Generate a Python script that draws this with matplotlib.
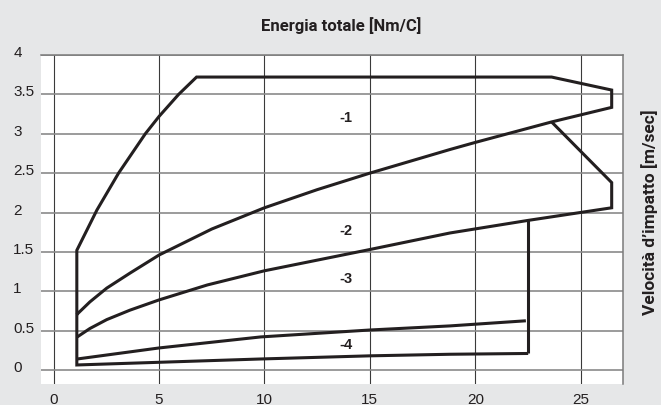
import matplotlib
matplotlib.use('Agg')
import matplotlib.pyplot as plt
import matplotlib.transforms as mtransforms

# ---- data ----
x_ticks = [0, 5, 10, 15, 20, 25]
y_ticks = [0, 0.5, 1, 1.5, 2, 2.5, 3, 3.5, 4]
y_tick_labels = ['0', '0.5', '1', '1.5', '2', '2.5', '3', '3.5', '4']

# bottom edge of the envelope
bottom_x = [1.1, 9.82, 15.0, 18.8, 22.51]
bottom_y = [0.064, 0.14, 0.18, 0.20, 0.21]

# left vertical edge
left_x = [1.1, 1.1]
left_y = [0.064, 1.52]

# outer curve (upper left)
curve1_x = [1.1, 2.05, 3.08, 4.35, 5.0, 5.93, 6.78]
curve1_y = [1.52, 2.03, 2.5, 3.0, 3.22, 3.5, 3.72]

# top edge with right notch
top_x = [6.78, 23.62, 26.47, 26.47]
top_y = [3.72, 3.72, 3.555, 3.335]

# curve between zone -1 and -2
curve2_x = [1.1, 1.72, 2.52, 3.62, 5.0, 7.5, 10.0, 12.5, 15.0, 18.8, 20.0, 23.62, 26.47]
curve2_y = [0.705, 0.865, 1.04, 1.23, 1.46, 1.79, 2.06, 2.29, 2.5, 2.80, 2.89, 3.15, 3.335]

# curve between zone -2 and -3
curve3_x = [1.12, 1.72, 2.52, 3.62, 5.0, 7.29, 10.0, 15.0, 18.8, 22.51, 26.47]
curve3_y = [0.42, 0.527, 0.64, 0.76, 0.89, 1.08, 1.26, 1.53, 1.74, 1.90, 2.06]

# right side of zone -2
notch_x = [26.47, 26.47, 23.62]
notch_y = [2.06, 2.38, 3.15]

# line between zone -3 and -4
curve4_x = [1.12, 5.0, 9.82, 15.0, 18.8, 22.4]
curve4_y = [0.14, 0.28, 0.42, 0.508, 0.56, 0.625]

# right edge of zones -3 / -4
cut_x = [22.51, 22.51]
cut_y = [0.21, 1.90]

zone_labels = ['-1', '-2', '-3', '-4']
zone_x = [13.87, 13.87, 13.87, 13.87]
zone_y = [3.20, 1.77, 1.16, 0.32]

bg = '#e6e7e8'
ink = '#231f20'
head_font = ['Roboto', 'DejaVu Sans']
plain = ['Liberation Sans', 'DejaVu Sans']

fig = plt.figure(figsize=(6.61, 4.05), dpi=100, facecolor=bg)
ax = fig.add_axes([0.062, 0.0514, 0.8803, 0.8128])
ax.set_facecolor('white')
ax.set_xlim(-0.6, 27)
ax.set_ylim(-0.18, 4)

for side in ['left', 'bottom']:
    ax.spines[side].set_visible(False)
for side in ['top', 'right']:
    ax.spines[side].set_color('#7a7a7a')
    ax.spines[side].set_linewidth(1.1)

ax.set_xticks(x_ticks)
ax.set_yticks(y_ticks)
ax.set_yticklabels(y_tick_labels, ha='left')
ax.xaxis.grid(True, color='#3a3a3a', linewidth=0.8)
ax.yaxis.grid(True, color='#8a8a8a', linewidth=1.2)
ax.set_axisbelow(True)
ax.tick_params(axis='both', length=0, labelsize=11, colors=ink)
ax.tick_params(axis='x', pad=6)
ax.tick_params(axis='y', pad=20)
for lab in ax.get_xticklabels() + ax.get_yticklabels():
    lab.set_family(plain)
# nudge y labels slightly above their grid line
shift = mtransforms.ScaledTranslation(0, 3.5 / 100, fig.dpi_scale_trans)
for lab in ax.get_yticklabels():
    lab.set_transform(lab.get_transform() + shift)

line_kw = dict(color=ink, linewidth=2.2, solid_joinstyle='miter', solid_capstyle='butt', zorder=3)

# outer envelope: bottom (reversed), left edge, outer curve, top, curve2 back
outer_x = bottom_x[::-1] + left_x + curve1_x + top_x + curve2_x[::-1]
outer_y = bottom_y[::-1] + left_y + curve1_y + top_y + curve2_y[::-1]
ax.plot(outer_x, outer_y, **line_kw)
ax.plot(curve3_x + notch_x, curve3_y + notch_y, **line_kw)
ax.plot(curve4_x, curve4_y, **line_kw)
ax.plot(cut_x, cut_y, **line_kw)

for lab, lx, ly in zip(zone_labels, zone_x, zone_y):
    ax.text(lx, ly, lab, ha='center', va='center', fontsize=10.5,
            fontweight='bold', color=ink, family=plain)

fig.text(0.516, 0.924, 'Energia totale [Nm/C]', ha='center', va='baseline',
         fontsize=12, fontweight='bold', color=ink, family=head_font)
fig.text(0.983, 0.475, 'Velocità d’impatto [m/sec]', ha='center', va='center',
         rotation=90, fontsize=12.5, fontweight='bold', color=ink, family=head_font)

fig.savefig('out.png', dpi=100, facecolor=fig.get_facecolor())
